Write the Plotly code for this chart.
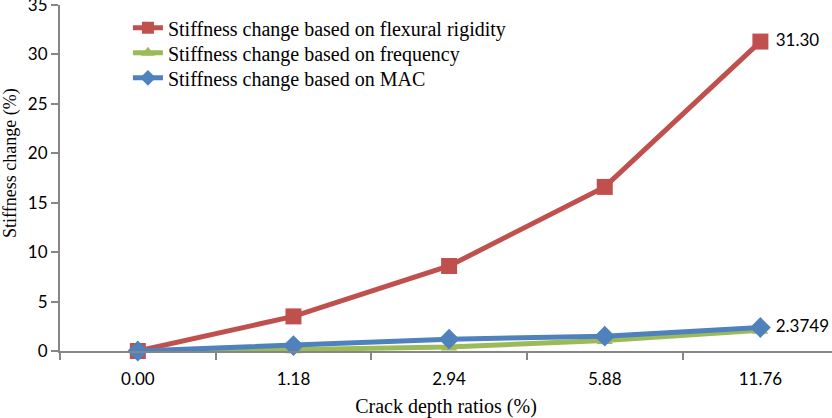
import plotly.graph_objects as go

categories = ["0.00", "1.18", "2.94", "5.88", "11.76"]
flexural = [0.0, 3.5, 8.6, 16.6, 31.30]
frequency = [-0.1, 0.12, 0.4, 1.05, 2.1]
mac = [0.0, 0.55, 1.2, 1.5, 2.3749]
names = ["Stiffness change based on flexural rigidity",
         "Stiffness change based on frequency",
         "Stiffness change based on MAC"]
last_labels = ["31.30", None, "2.3749"]

colors = ["#C0504D", "#9BBB59", "#4F81BD"]
symbols = ["square", "triangle-up", "diamond"]
sizes = [16, 14, 16]
legend_ids = ["legend", "legend2", "legend3"]

fig = go.Figure()
for vals, name, col, sym, sz, lab, lg in zip([flexural, frequency, mac], names, colors, symbols, sizes, last_labels, legend_ids):
    txt = [""] * (len(vals) - 1) + [(" " + lab) if lab else ""]
    fig.add_trace(go.Scatter(
        x=categories, y=vals, name=name, mode="lines+markers+text",
        line=dict(color=col, width=5),
        marker=dict(symbol=sym, size=sz, color=col),
        text=txt, textposition="middle right",
        textfont=dict(family="Lato", size=17, color="#000000"),
        cliponaxis=False, legend=lg,
    ))

plot_h = 345.4
zero_px = 350.7
row_px = [28, 53, 78]
leg_common = dict(x=0.088, xanchor="left", yanchor="middle",
                  font=dict(family="Liberation Serif", size=20, color="#000000"),
                  bgcolor="rgba(0,0,0,0)", itemsizing="constant")

fig.update_layout(
    width=832, height=418,
    margin=dict(l=60, r=0, t=5, b=67, autoexpand=False),
    paper_bgcolor="white", plot_bgcolor="white",
    showlegend=True,
    legend=dict(y=(zero_px - row_px[0]) / plot_h, **leg_common),
    legend2=dict(y=(zero_px - row_px[1]) / plot_h, **leg_common),
    legend3=dict(y=(zero_px - row_px[2]) / plot_h, **leg_common),
    xaxis=dict(type="category", range=[-0.5, 4.46], showgrid=False, automargin=False,
               showline=True, linecolor="#868686", linewidth=2,
               ticks="outside", tickson="boundaries", ticklen=7, tickcolor="#868686", tickwidth=1.5,
               ticklabelstandoff=12,
               tickfont=dict(family="Lato", size=17, color="#000000"),
               title=dict(text="Crack depth ratios (%)", standoff=11,
                          font=dict(family="Liberation Serif", size=20, color="#000000"))),
    yaxis=dict(range=[0, 35], dtick=5, showgrid=False, zeroline=False, automargin=False,
               showline=True, linecolor="#868686", linewidth=2,
               ticks="outside", ticklen=7, tickcolor="#868686", tickwidth=1.5,
               ticklabeloverflow="allow",
               tickfont=dict(family="Lato", size=17, color="#000000")),
    annotations=[dict(text="Stiffness change (%)", textangle=-90, xref="paper", yref="paper",
                      x=(11 - 60) / 772, y=(zero_px - 163) / plot_h, xanchor="center", yanchor="middle",
                      showarrow=False,
                      font=dict(family="Liberation Serif", size=18, color="#000000"))],
)

fig.write_html("out.html")
